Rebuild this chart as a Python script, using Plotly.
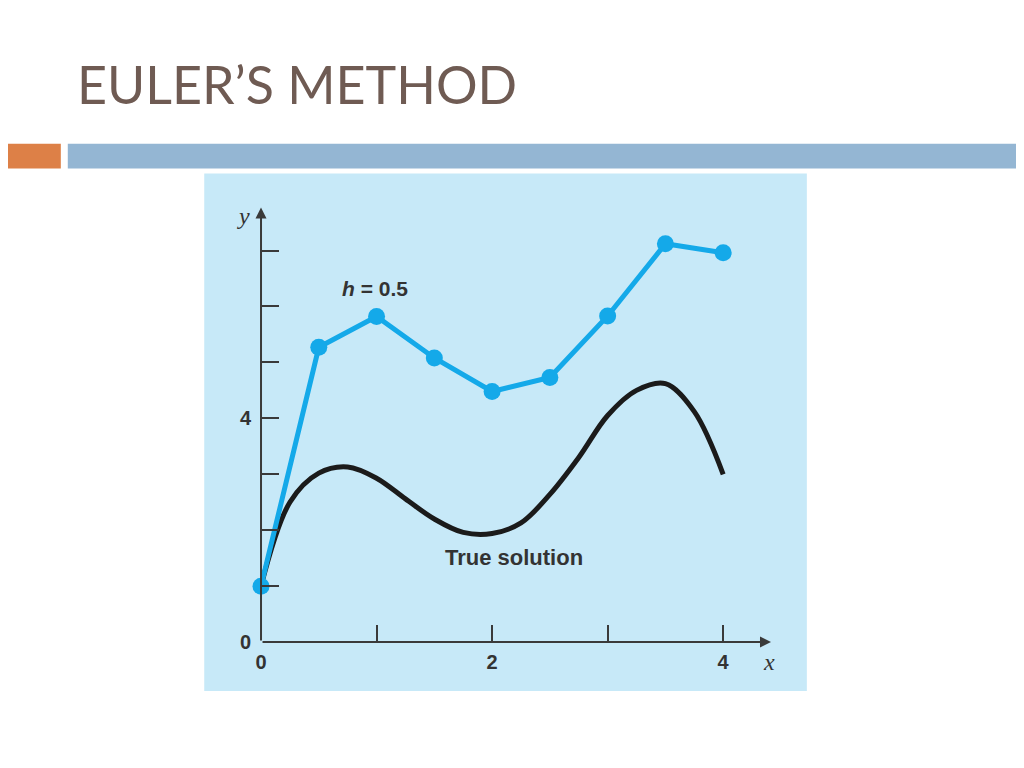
import plotly.graph_objects as go

# values
euler_x = [0, 0.5, 1.0, 1.5, 2.0, 2.5, 3.0, 3.5, 4.0]
euler_y = [1.0, 5.27, 5.82, 5.08, 4.48, 4.73, 5.83, 7.12, 6.96]

true_x = [0, 0.25, 0.5, 0.75, 1.0, 1.25, 1.5, 1.75, 2.0, 2.25, 2.5, 2.75,
          3.0, 3.25, 3.5, 3.75, 4.0]
true_y = [1.0, 2.5, 3.02, 3.13, 2.93, 2.56, 2.2, 1.96, 1.94, 2.13, 2.64, 3.3,
          4.05, 4.5, 4.62, 4.12, 3.0]

y_tickvals = [0, 1, 2, 3, 4, 5, 6, 7]
y_ticktext = ["0", "", "", "", "4", "", "", ""]
x_tickvals = [0, 1, 2, 3, 4]
x_ticktext = ["0", "", "2", "", "4"]

# figure kept inside the page margin; positions below are given in
# screen pixels and converted to paper fractions
W, H = 1008, 752
X_OFF, X_SCALE = 12, 0.998
Y_OFF, Y_SCALE = 7.2, 0.9865
AX = "#3a3a3a"
TXT = "#333333"


def px(x):
    return ((x - X_OFF) / X_SCALE) / W


def py(y):
    return 1 - ((y - Y_OFF) / Y_SCALE) / H


# x axis: 0 at 260px, 4 at 724px; y axis: 0 at 642px, 4 at 418px
x_max = (772 - 260) / 116
y_max = (642 - 207) / 56

tick_font = dict(family="Liberation Sans", size=20, color=TXT, weight="bold")

fig = go.Figure()
fig.add_trace(go.Scatter(
    x=true_x, y=true_y, mode="lines",
    line=dict(color="#1b1b1b", width=5, shape="spline", smoothing=1.0),
    cliponaxis=False, hoverinfo="skip"))
fig.add_trace(go.Scatter(
    x=euler_x, y=euler_y, mode="lines+markers",
    line=dict(color="#14a9e9", width=5),
    marker=dict(color="#14a9e9", size=17),
    cliponaxis=False))

fig.update_layout(
    width=W, height=H,
    margin=dict(l=0, r=0, t=0, b=0),
    paper_bgcolor="white",
    plot_bgcolor="rgba(0,0,0,0)",
    showlegend=False,
    xaxis=dict(domain=[px(260), px(772)], range=[0, x_max],
               tickvals=x_tickvals, ticktext=x_ticktext,
               ticks="inside", ticklen=17, tickwidth=2, tickcolor=AX,
               ticklabelstandoff=6,
               showgrid=False, zeroline=False, showline=False,
               tickfont=tick_font),
    yaxis=dict(domain=[py(642), py(207)], range=[0, y_max],
               tickvals=y_tickvals, ticktext=y_ticktext,
               ticks="inside", ticklen=18, tickwidth=2, tickcolor=AX,
               ticklabelstandoff=9,
               showgrid=False, zeroline=False, showline=False,
               tickfont=tick_font),
    shapes=[
        dict(type="rect", xref="paper", yref="paper", layer="below",
             x0=px(0), x1=px(59), y0=py(168), y1=py(143),
             fillcolor="#dd8047", line=dict(width=0)),
        dict(type="rect", xref="paper", yref="paper", layer="below",
             x0=px(66), x1=px(1024), y0=py(168), y1=py(143),
             fillcolor="#94b6d3", line=dict(width=0)),
        dict(type="rect", xref="paper", yref="paper", layer="below",
             x0=px(203), x1=px(808), y0=py(691), y1=py(173),
             fillcolor="#c7e9f8", line=dict(width=0)),
    ],
    annotations=[
        # axes with arrow heads
        dict(x=x_max, y=0, ax=0, ay=0, xref="x", yref="y", axref="x", ayref="y",
             text="", showarrow=True, arrowhead=2, arrowsize=1.1,
             arrowwidth=2, arrowcolor=AX),
        dict(x=0, y=y_max, ax=0, ay=0, xref="x", yref="y", axref="x", ayref="y",
             text="", showarrow=True, arrowhead=2, arrowsize=1.1,
             arrowwidth=2, arrowcolor=AX),
        dict(x=px(242), y=py(215), xref="paper", yref="paper", showarrow=False,
             xanchor="center", yanchor="middle",
             text="<i>y</i>", font=dict(family="Liberation Serif", size=24, color=TXT)),
        dict(x=px(770), y=py(662), xref="paper", yref="paper", showarrow=False,
             xanchor="center", yanchor="middle",
             text="<i>x</i>", font=dict(family="Liberation Serif", size=24, color=TXT)),
        dict(x=px(374), y=py(288), xref="paper", yref="paper", showarrow=False,
             xanchor="center", yanchor="middle",
             text="<i>h</i> = 0.5",
             font=dict(family="Liberation Sans", size=21, color=TXT, weight="bold")),
        dict(x=px(514), y=py(557), xref="paper", yref="paper", showarrow=False,
             xanchor="center", yanchor="middle",
             text="True solution",
             font=dict(family="Liberation Sans", size=22, color=TXT, weight="bold")),
        dict(x=px(73), y=py(83), xref="paper", yref="paper", showarrow=False,
             xanchor="left", yanchor="middle",
             text="EULER’S METHOD", font=dict(family="Lato", size=52, color="#6f5b53")),
    ],
)

fig.write_html("out.html")
